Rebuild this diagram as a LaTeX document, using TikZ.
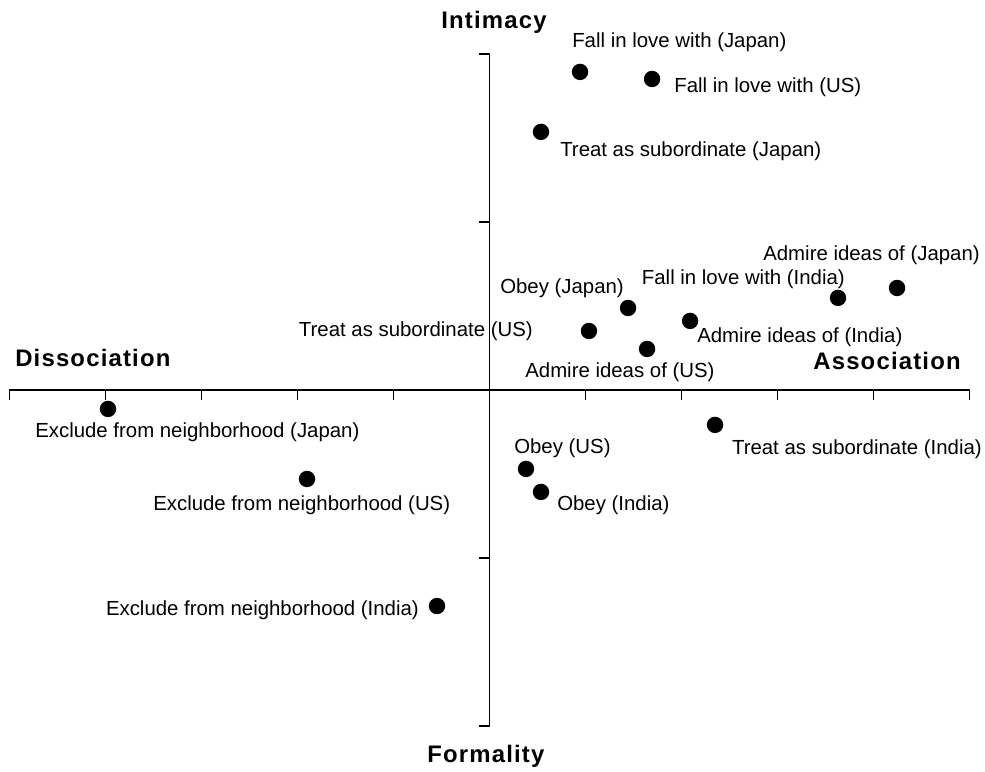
\documentclass[tikz,border=0pt]{standalone}
\usepackage{fontspec}
\setmainfont{Liberation Sans}
\newfontfamily\axisfont[LetterSpace=5]{Liberation Sans}
\usepackage{tikz}

\begin{document}
\begin{tikzpicture}[
			x=2.4cm, y=4.2cm,
			% Define the styles for the points, their labels and the axis names
			dot/.style={circle, fill=black, inner sep=0pt, minimum size=4.1mm},
			lbl/.style={anchor=base west, inner sep=0pt, font=\fontsize{14.5}{17}\selectfont},
			axislbl/.style={anchor=base west, inner sep=0pt, font=\axisfont\bfseries\fontsize{17}{20}\selectfont},
			axisline/.style={line width=1.3pt}
			]
			
			\useasboundingbox (-5.099,-2.274) rectangle (5.161,2.321);
			
			% Axes
			\coordinate (west) at (-5, 0);
			\coordinate (east) at (5, 0);
			\coordinate (north) at (0, 2);
			\coordinate (south) at (0, -2);
			
			\draw[axisline] (west) -- (east);
			\draw[axisline] (north) -- (south);
			\foreach \x in {-5,...,5}
				\draw[axisline] (\x, 0) -- (\x, -0.06);
			\foreach \y in {-2,-1,1,2}
				\draw[axisline] (0, \y) -- (-0.11, \y);
			
			\node (intimacy) at (-0.505, 2.149) [axislbl] {Intimacy};
			\node (formality) at (-0.651, -2.220) [axislbl] {Formality};
			\node (dissociation) at (-4.943, 0.139) [axislbl] {Dissociation};
			\node (association) at (3.370, 0.119) [axislbl] {Association};
			
			% Points
			\node (fjp) at (0.943, 1.893) [dot] {};
			\node (fus) at (1.693, 1.851) [dot] {};
			\node (tjp) at (0.536, 1.536) [dot] {};
			\node (ajp) at (4.245, 0.607) [dot] {};
			\node (fin) at (3.630, 0.548) [dot] {};
			\node (ojp) at (1.443, 0.488) [dot] {};
			\node (ain) at (2.089, 0.411) [dot] {};
			\node (tus) at (1.036, 0.351) [dot] {};
			\node (aus) at (1.641, 0.244) [dot] {};
			\node (ejp) at (-3.974, -0.113) [dot] {};
			\node (tin) at (2.349, -0.208) [dot] {};
			\node (ous) at (0.380, -0.470) [dot] {};
			\node (eus) at (-1.901, -0.530) [dot] {};
			\node (oin) at (0.536, -0.607) [dot] {};
			\node (ein) at (-0.547, -1.286) [dot] {};
			
			% Labels
			\node (lfjp) at (0.859, 2.036) [lbl] {Fall in love with (Japan)};
			\node (lfus) at (1.922, 1.770) [lbl] {Fall in love with (US)};
			\node (ltjp) at (0.734, 1.389) [lbl] {Treat as subordinate (Japan)};
			\node (lajp) at (5.109, 0.770) [lbl, anchor=base east] {Admire ideas of (Japan)};
			\node (lfin) at (3.703, 0.629) [lbl, anchor=base east] {Fall in love with (India)};
			\node (lojp) at (0.109, 0.576) [lbl] {Obey (Japan)};
			\node (ltus) at (0.453, 0.317) [lbl, anchor=base east] {Treat as subordinate (US)};
			\node (lain) at (2.161, 0.282) [lbl] {Admire ideas of (India)};
			\node (laus) at (0.370, 0.073) [lbl] {Admire ideas of (US)};
			\node (lejp) at (-4.734, -0.286) [lbl] {Exclude from neighborhood (Japan)};
			\node (ltin) at (5.130, -0.383) [lbl, anchor=base east] {Treat as subordinate (India)};
			\node (lous) at (0.255, -0.377) [lbl] {Obey (US)};
			\node (loin) at (0.703, -0.720) [lbl] {Obey (India)};
			\node (leus) at (-3.505, -0.720) [lbl] {Exclude from neighborhood (US)};
			\node (lein) at (-0.734, -1.345) [lbl, anchor=base east] {Exclude from neighborhood (India)};
			
		\end{tikzpicture}
\end{document}
